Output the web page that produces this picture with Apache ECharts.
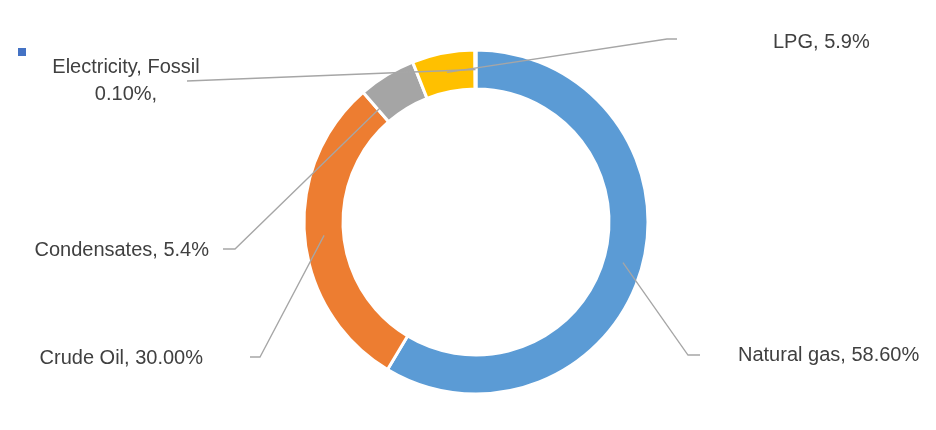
<!DOCTYPE html>
<html>
<head>
<meta charset="utf-8">
<script src="https://cdn.jsdelivr.net/npm/echarts@6/dist/echarts.min.js"></script>
<style>html,body{margin:0;padding:0;background:#fff}#c{width:936px;height:430px}</style>
</head>
<body>
<div id="c"></div>
<script>
// ---- data ----
var categories = ['Natural gas', 'Crude Oil', 'Condensates', 'LPG', 'Electricity, Fossil'];
var shares = [58.6, 30.0, 5.4, 5.9, 0.1];
var labelTexts = ['Natural gas, 58.60%', 'Crude Oil, 30.00%', 'Condensates, 5.4%', 'LPG, 5.9%', 'Electricity, Fossil\n0.10%,'];
var colors = ['#5B9BD5', '#ED7D31', '#A5A5A5', '#FFC000', '#4472C4'];

// ---- layout ----
var CX = 476, CY = 222, R_IN = 133, R_OUT = 172;
var R_MID = (R_IN + R_OUT) / 2;
// label anchor, elbow/end points of leader lines
var labelPlace = [
  {x: 738, y: 355, align: 'left',   pts: [[688, 355], [700, 355]]},
  {x: 203, y: 358, align: 'right',  pts: [[260, 357], [250, 357]]},
  {x: 209, y: 250, align: 'right',  pts: [[235, 249], [223, 249]]},
  {x: 773, y: 42,  align: 'left',   pts: [[667, 39], [677, 39]]},
  {x: 126, y: 81,  align: 'center', pts: [[187, 81]]}
];

var total = shares.reduce(function (a, b) { return a + b; }, 0);
function midPoint(i) {
  var cum = 0;
  for (var k = 0; k < i; k++) cum += shares[k];
  var frac = (cum + shares[i] / 2) / total;
  var ang = frac * 2 * Math.PI; // clockwise from top
  return [CX + R_MID * Math.sin(ang), CY - R_MID * Math.cos(ang)];
}

var pieData = categories.map(function (c, i) { return {name: c, value: shares[i]}; });

var chart = echarts.init(document.getElementById('c'));
chart.setOption({
  backgroundColor: '#fff',
  animation: false,
  color: colors,
  graphic: [{
    type: 'rect', left: 18, top: 48,
    shape: {width: 8, height: 8},
    style: {fill: '#4472C4'}
  }],
  series: [{
    type: 'pie',
    z: 2,
    center: [CX, CY],
    radius: [R_IN, R_OUT],
    startAngle: 90,
    clockwise: true,
    minAngle: 0,
    itemStyle: {borderColor: '#fff', borderWidth: 3},
    label: {show: false},
    labelLine: {show: false},
    emphasis: {disabled: true},
    silent: true,
    data: pieData
  }, {
    type: 'pie',
    z: 5,
    center: [CX, CY],
    radius: [R_IN, R_OUT],
    startAngle: 90,
    clockwise: true,
    minAngle: 0,
    avoidLabelOverlap: false,
    itemStyle: {color: 'rgba(0,0,0,0)', borderWidth: 0},
    label: {
      show: true,
      formatter: function (p) { return labelTexts[p.dataIndex]; },
      fontFamily: 'Liberation Sans',
      fontSize: 20,
      lineHeight: 27,
      color: '#404040'
    },
    labelLine: {show: true, lineStyle: {color: '#A6A6A6', width: 1.3}},
    labelLayout: function (params) {
      var i = params.dataIndex;
      var lp = labelPlace[i];
      return {
        x: lp.x, y: lp.y,
        align: lp.align,
        verticalAlign: 'middle',
        labelLinePoints: [midPoint(i)].concat(lp.pts)
      };
    },
    emphasis: {disabled: true},
    silent: true,
    data: pieData
  }]
});
</script>
</body>
</html>
